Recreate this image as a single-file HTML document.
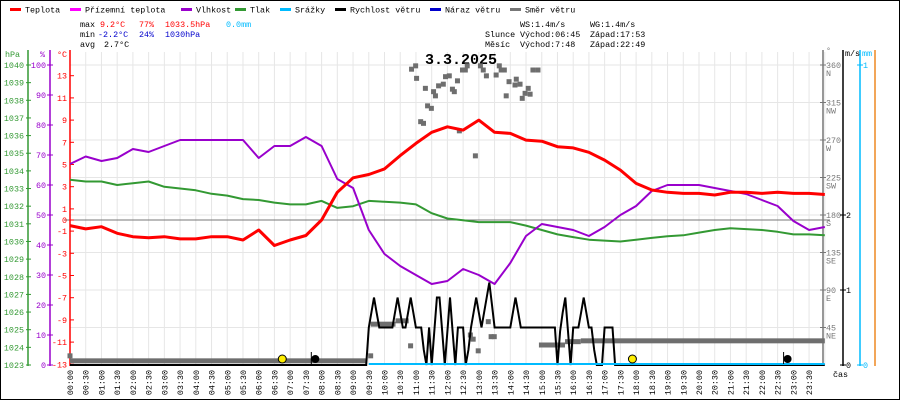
<!DOCTYPE html>
<html><head><meta charset="utf-8">
<style>
html,body{margin:0;padding:0;background:#fff;}
svg{display:block;font-family:"Liberation Mono",monospace;}
</style></head>
<body>
<svg id="chart" width="900" height="400" viewBox="0 0 900 400" xmlns="http://www.w3.org/2000/svg">
<rect x="0.5" y="0.5" width="899" height="399" fill="#fff" stroke="#000"/>
<g id="grid"></g>
<g id="legend" font-size="8.4">
  <rect x="10" y="8" width="11" height="3" fill="#ff0000"/><text x="25" y="12.5">Teplota</text>
  <rect x="70" y="8" width="11" height="3" fill="#ff00ff"/><text x="85" y="12.5">Přízemní teplota</text>
  <rect x="181" y="8" width="11" height="3" fill="#9900cc"/><text x="196" y="12.5">Vlhkost</text>
  <rect x="235" y="8" width="11" height="3" fill="#339933"/><text x="250" y="12.5">Tlak</text>
  <rect x="280" y="8" width="11" height="3" fill="#00bbff"/><text x="295" y="12.5">Srážky</text>
  <rect x="335" y="8" width="11" height="3" fill="#000"/><text x="350" y="12.5">Rychlost větru</text>
  <rect x="430" y="8" width="11" height="3" fill="#0000cc"/><text x="445" y="12.5">Náraz větru</text>
  <rect x="510" y="8" width="11" height="3" fill="#777"/><text x="525" y="12.5">Směr větru</text>
</g>
<g id="stats" font-size="8.4">
  <text x="80" y="27">max</text>
  <text x="100" y="27" fill="#ff0000">9.2°C</text>
  <text x="139" y="27" fill="#ff0000">77%</text>
  <text x="165" y="27" fill="#ff0000">1033.5hPa</text>
  <text x="226" y="27" fill="#00bbff">0.0mm</text>
  <text x="80" y="37">min</text>
  <text x="98" y="37" fill="#0000cc">-2.2°C</text>
  <text x="139" y="37" fill="#0000cc">24%</text>
  <text x="165" y="37" fill="#0000cc">1030hPa</text>
  <text x="80" y="47">avg</text>
  <text x="104" y="47">2.7°C</text>
  <text x="520" y="27">WS:1.4m/s</text>
  <text x="590" y="27">WG:1.4m/s</text>
  <text x="485" y="37">Slunce</text>
  <text x="520" y="37">Východ:06:45</text>
  <text x="590" y="37">Západ:17:53</text>
  <text x="485" y="47">Měsíc</text>
  <text x="520" y="47">Východ:7:48</text>
  <text x="590" y="47">Západ:22:49</text>
</g>
<text x="461" y="64" text-anchor="middle" font-size="15" font-weight="bold">3.3.2025</text>
<g id="axes" font-size="8.4"></g>
<g id="series"></g>
</svg>
<script>
// ---- data ----
const halfHourLabels = ["00:00","00:30","01:00","01:30","02:00","02:30","03:00","03:30","04:00","04:30","05:00","05:30","06:00","06:30","07:00","07:30","08:00","08:30","09:00","09:30","10:00","10:30","11:00","11:30","12:00","12:30","13:00","13:30","14:00","14:30","15:00","15:30","16:00","16:30","17:00","17:30","18:00","18:30","19:00","19:30","20:00","20:30","21:00","21:30","22:00","22:30","23:00","23:30"];
const tempValues = [-0.5,-0.8,-0.6,-1.2,-1.5,-1.6,-1.5,-1.7,-1.7,-1.5,-1.5,-1.8,-0.9,-2.3,-1.8,-1.4,0.0,2.5,3.8,4.1,4.6,5.8,6.9,7.9,8.4,8.1,9.0,7.9,7.8,7.2,7.1,6.6,6.5,6.1,5.4,4.5,3.3,2.7,2.5,2.4,2.4,2.25,2.5,2.5,2.4,2.5,2.4,2.4,2.3];
const humValues = [67,69.5,68,69,72,71,73,75,75,75,75,75,69,73,73,76,73,62,59,45,37,33,30,27,28,32,30,27,34,43,47,46,45,43,46,50,53,58,60,60,60,59,58,57,55,53,48,45,46];
const pressValues = [1033.5,1033.4,1033.4,1033.2,1033.3,1033.4,1033.1,1033.0,1032.9,1032.7,1032.6,1032.4,1032.35,1032.2,1032.1,1032.1,1032.3,1031.9,1032.0,1032.3,1032.25,1032.2,1032.1,1031.6,1031.3,1031.2,1031.1,1031.1,1031.1,1030.9,1030.65,1030.4,1030.25,1030.1,1030.05,1030.0,1030.1,1030.2,1030.3,1030.35,1030.5,1030.65,1030.75,1030.7,1030.65,1030.55,1030.4,1030.4,1030.35];
// wind speed, 5-minute samples starting 09:00 (m/s); zero elsewhere
const windStartHour = 9;
const windValues = [0,0,0,0,0,0,0.5,0.7,0.9,0.7,0.5,0.5,0.5,0.5,0.5,0.5,0.7,0.9,0.7,0.5,0.5,0.7,0.9,0.7,0.5,0.5,0.5,0.2,0,0.5,0,0.45,0.9,0.9,0.45,0,0.45,0.9,0.45,0,0.5,0.5,0.5,0,0.2,0.5,0.7,0.9,0.7,0.5,0.7,0.9,1.1,0.8,0.5,0.5,0.5,0.5,0.5,0.5,0.5,0.7,0.9,0.7,0.5,0.5,0.5,0.5,0.5,0.5,0.5,0.5,0.5,0.5,0.5,0.5,0.5,0.5,0,0.45,0.7,0.9,0.45,0,0.5,0.5,0.5,0.7,0.9,0.7,0.5,0.5,0.2,0,0,0,0.5,0.5,0.5,0.5,0,0,0,0,0,0,0,0,0];
// wind direction: constant segments + scattered samples
const dirSegStart = [0,9.56,10.35,14.91,15.74,16.24];
const dirSegEnd = [9.43,10.35,10.77,15.74,16.24,24];
const dirSegDeg = [5,49,53,24,28,29];
const dirHours = [0,9.56,10.83,12.73,12.82,12.98,13.30,13.39,13.49,10.86,10.99,11.02,11.15,11.24,11.30,11.37,11.49,11.56,11.62,11.72,11.87,11.94,12.06,12.16,12.22,12.32,12.38,12.48,12.57,12.63,12.89,13.05,13.14,13.24,13.55,13.65,13.71,13.81,13.87,13.96,14.15,14.19,14.31,14.38,14.47,14.57,14.63,14.72,14.88];
const dirDeg = [11,11,23,36,31,17,52,34,34,355,359,344,292,290,332,311,308,328,323,335,337,346,347,331,328,341,281,354,354,359,251,359,354,347,348,359,354,354,323,340,336,343,337,320,326,332,325,354,354];
const rainStartHour = 9.5;
const rainValues = [0,0];
const tempTicks = [13,11,9,7,5,3,1,0,-1,-3,-5,-7,-9,-11,-13];
const humTicks = [100,90,80,70,60,50,40,30,20,10,0];
const pressTicks = [1040,1039,1038,1037,1036,1035,1034,1033,1032,1031,1030,1029,1028,1027,1026,1025,1024,1023];
const dirTicks = [360,315,270,225,180,135,90,45];
const dirNames = ["N","NW","W","SW","S","SE","E","NE"];
const windTicks = [2,1,0];
const rainTicks = [1,0];
const sunHours = [6.75,17.883];
const moonHours = [7.8,22.817];

// ---- scales ----
const X0=70, X1=824, PX_PER_H=31.45, YB=365;
const xH = h => X0 + h*PX_PER_H;
const yT = t => 220 - t*11.1;
const yHum = v => YB - v*3;
const yP = p => 65 + (1040-p)*17.647;
const yDir = d => YB - d*0.8333;
const yW = w => YB - w*75;
const yR = r => YB - r*300;

const NS="http://www.w3.org/2000/svg";
function mk(tag, attrs, parent){const e=document.createElementNS(NS,tag);for(const k in attrs)e.setAttribute(k,attrs[k]);parent.appendChild(e);return e;}
const grid=document.getElementById('grid'), axes=document.getElementById('axes'), ser=document.getElementById('series');

for(let i=0;i<=48;i++){
  const l=mk('line',{x1:xH(i/2),x2:xH(i/2),y1:52,y2:YB,stroke:'#e6e6e6','stroke-width':1},grid);
  
  
}
dirTicks.forEach(d=>{
  const l=mk('line',{x1:X0,x2:X1,y1:yDir(d),y2:yDir(d),stroke:'#e6e6e6','stroke-width':1},grid);
  
  
});
const zl=mk('line',{x1:X0-5,x2:X1+6,y1:yT(0),y2:yT(0),stroke:'#777','stroke-width':1},grid);



function axisLine(x,color,name,y1,y2){const l=mk('line',{x1:x,x2:x,y1:y1,y2:y2,stroke:color,'stroke-width':1.5},axes);}
axisLine(28,'#339933','pressure-axis',50,366);
axisLine(50,'#9900cc','humidity-axis',50,366);
axisLine(70,'#ff0000','temperature-axis',50,366);
axisLine(823,'#777','direction-axis',50,366);
axisLine(843,'#000','wind-axis',50,366);
axisLine(860,'#00bbff','rain-axis',50,366);
axisLine(875,'#ee8822','extra-axis',50,366);
pressTicks.forEach(p=>{
  const t=mk('text',{x:24,y:yP(p)+3,'text-anchor':'end',fill:'#339933'},axes);t.textContent=p;
  
  
  mk('line',{x1:26,x2:31,y1:yP(p),y2:yP(p),stroke:'#339933'},axes);
});
humTicks.forEach(h=>{
  const t=mk('text',{x:46,y:yHum(h)+3,'text-anchor':'end',fill:'#9900cc'},axes);t.textContent=h;
  
  
  mk('line',{x1:47,x2:53,y1:yHum(h),y2:yHum(h),stroke:'#9900cc'},axes);
});
tempTicks.forEach(v=>{
  const t=mk('text',{x:67,y:yT(v)+3,'text-anchor':'end',fill:'#ff0000'},axes);t.textContent=v;
  
  
  mk('line',{x1:70,x2:74,y1:yT(v),y2:yT(v),stroke:'#ff0000'},axes);
});
dirTicks.forEach((d,i)=>{
  const t=mk('text',{x:826,y:yDir(d)+3,fill:'#777'},axes);t.textContent=d;
  
  
  const n=mk('text',{x:826,y:yDir(d)+11,fill:'#777'},axes);n.textContent=dirNames[i];
  
  
  mk('line',{x1:820,x2:826,y1:yDir(d),y2:yDir(d),stroke:'#777'},axes);
});
windTicks.forEach(w=>{
  const t=mk('text',{x:846,y:yW(w)+3,fill:'#000'},axes);t.textContent=w;
  
  
  mk('line',{x1:840,x2:846,y1:yW(w),y2:yW(w),stroke:'#000'},axes);
});
rainTicks.forEach(r=>{
  const t=mk('text',{x:863,y:yR(r)+3,fill:'#00bbff'},axes);t.textContent=r;
  
  
  mk('line',{x1:857,x2:863,y1:yR(r),y2:yR(r),stroke:'#00bbff'},axes);
});
[['hPa',5,57,'#339933','pressure-unit'],['%',40,57,'#9900cc','humidity-unit'],['°C',57,57,'#ff0000','temperature-unit'],['°',826,53,'#777','direction-unit'],['m/s',845,56,'#000','wind-unit'],['mm',862,56,'#00bbff','rain-unit'],['čas',833,377,'#000','time-axis-title']].forEach(a=>{
  const t=mk('text',{x:a[1],y:a[2],fill:a[3]},axes);t.textContent=a[0];
  
  
});
halfHourLabels.forEach((s,i)=>{
  const x=xH(i/2)+3;
  const t=mk('text',{x:x,y:370,'text-anchor':'end',transform:`rotate(-90 ${x} 370)`,fill:'#000','font-size':8.4},axes);t.textContent=s;
  
  
});

function poly(vals,yf,color,w,name){
  const pts=vals.map((v,i)=>xH(i/2).toFixed(1)+','+yf(v).toFixed(1)).join(' ');
  const p=mk('polyline',{points:pts,fill:'none',stroke:color,'stroke-width':w,'stroke-linejoin':'round'},ser);
  
  
}
dirSegDeg.forEach((d,i)=>{
  const r=mk('rect',{x:xH(dirSegStart[i]),y:yDir(d)-2.5,width:xH(dirSegEnd[i])-xH(dirSegStart[i]),height:5,fill:'#6e6e6e'},ser);
  
  
});
dirDeg.forEach((d,i)=>{
  const r=mk('rect',{x:xH(dirHours[i])-2.5,y:yDir(d)-2.5,width:5,height:5,fill:'#6e6e6e'},ser);
  
  
});
poly(pressValues,yP,'#339933',2,'pressure-line');
poly(humValues,yHum,'#9900cc',2,'humidity-line');
poly(tempValues,yT,'#ff0000',3,'temperature-line');
{
  const pts=[[xH(0),yW(0)],[xH(windStartHour),yW(0)]];
  windValues.forEach((w,i)=>pts.push([xH(windStartHour+i/12),yW(w)]));
  pts.push([xH(24),yW(0)]);
  const p=mk('polyline',{points:pts.map(a=>a[0].toFixed(1)+','+a[1].toFixed(1)).join(' '),fill:'none',stroke:'#000','stroke-width':2},ser);
  
  
}
{
  const p=mk('line',{x1:xH(rainStartHour),x2:xH(24),y1:yR(rainValues[0])-1,y2:yR(rainValues[1])-1,stroke:'#00bbff','stroke-width':2},ser);
  
  
}
sunHours.forEach(h=>{
  const c=mk('circle',{cx:xH(h),cy:359,r:4,fill:'#ffee00',stroke:'#000','stroke-width':1},ser);
  
  
});
moonHours.forEach(h=>{
  const c=mk('circle',{cx:xH(h),cy:359,r:4,fill:'#000'},ser);
  
  
  mk('line',{x1:xH(h)-4,x2:xH(h)-4,y1:352,y2:364,stroke:'#000'},ser);
});
</script>
</body></html>
